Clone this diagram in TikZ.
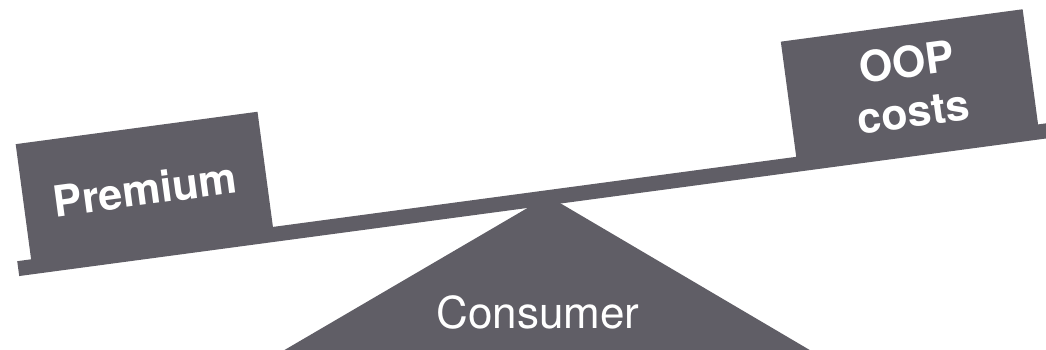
\documentclass[tikz,border=0pt]{standalone}
\usepackage{fontspec}
\setmainfont{TeX Gyre Heros}
\usetikzlibrary{positioning,calc}
\definecolor{balgrey}{RGB}{96,94,102}

\begin{document}
\begin{tikzpicture}[
        x=1pt, y=1pt,
        plank/.style={fill=balgrey, inner sep=0pt, minimum width=1060pt, minimum height=15pt},
        weight/.style={fill=balgrey, inner sep=0pt, minimum width=244pt, minimum height=123.5pt,
                       text=white, align=center, font=\fontsize{43}{50}\selectfont\bfseries},
        basetext/.style={text=white, font=\fontsize{44}{50}\selectfont}
    ]
    \useasboundingbox (0,0) rectangle (1046,349);

    % Fulcrum
    \coordinate (tip) at (548,153);
    \fill[balgrey] (tip) -- (252,-20) -- (842,-20) -- cycle;
    \node[basetext, anchor=base] (cons) at (538,21) {Consumer};

    % Beam with the two weights on it (weights sit into the beam, no seam)
    \node[plank, rotate=7.63, anchor=north west] (beam) at (17,88) {};
    \node[weight, rotate=7.63, anchor=south west] (prem)
        at ($(beam.west)!14pt!(beam.east)$) {Premium};
    \node[weight, rotate=7.63, anchor=south west] (oop)
        at ($(beam.west)!786pt!(beam.east)$) {OOP\\costs};
\end{tikzpicture}
\end{document}
